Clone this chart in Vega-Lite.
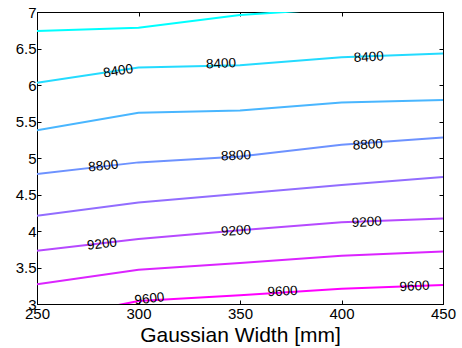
{
  "$schema": "https://vega.github.io/schema/vega-lite/v6.json",
  "width": 406,
  "height": 292,
  "autosize": {"type": "none"},
  "padding": {"left": 37, "top": 12, "right": 19, "bottom": 44},
  "background": "white",
  "config": {
    "view": {"stroke": "black", "strokeWidth": 1},
    "font": "Liberation Sans",
    "axis": {
      "grid": false,
      "domainColor": "black",
      "tickColor": "black",
      "labelColor": "black",
      "labelFont": "Liberation Sans",
      "labelFontSize": 15,
      "titleFont": "Liberation Sans",
      "titleColor": "black",
      "titleFontWeight": "normal",
      "tickSize": -4
    }
  },
  "datasets": {
    "lines": [
      {"x": 250, "y": 6.74, "level": 8200}, {"x": 300, "y": 6.785, "level": 8200}, {"x": 350, "y": 6.96, "level": 8200}, {"x": 400, "y": 7.05, "level": 8200}, {"x": 450, "y": 7.1, "level": 8200},
      {"x": 250, "y": 6.03, "level": 8400}, {"x": 300, "y": 6.24, "level": 8400}, {"x": 350, "y": 6.27, "level": 8400}, {"x": 400, "y": 6.38, "level": 8400}, {"x": 450, "y": 6.43, "level": 8400},
      {"x": 250, "y": 5.38, "level": 8600}, {"x": 300, "y": 5.62, "level": 8600}, {"x": 350, "y": 5.65, "level": 8600}, {"x": 400, "y": 5.76, "level": 8600}, {"x": 450, "y": 5.795, "level": 8600},
      {"x": 250, "y": 4.78, "level": 8800}, {"x": 300, "y": 4.94, "level": 8800}, {"x": 350, "y": 5.02, "level": 8800}, {"x": 400, "y": 5.18, "level": 8800}, {"x": 450, "y": 5.28, "level": 8800},
      {"x": 250, "y": 4.21, "level": 9000}, {"x": 300, "y": 4.39, "level": 9000}, {"x": 350, "y": 4.51, "level": 9000}, {"x": 400, "y": 4.63, "level": 9000}, {"x": 450, "y": 4.74, "level": 9000},
      {"x": 250, "y": 3.73, "level": 9200}, {"x": 300, "y": 3.89, "level": 9200}, {"x": 350, "y": 4.01, "level": 9200}, {"x": 400, "y": 4.12, "level": 9200}, {"x": 450, "y": 4.17, "level": 9200},
      {"x": 250, "y": 3.27, "level": 9400}, {"x": 300, "y": 3.47, "level": 9400}, {"x": 350, "y": 3.56, "level": 9400}, {"x": 400, "y": 3.66, "level": 9400}, {"x": 450, "y": 3.72, "level": 9400},
      {"x": 250, "y": 2.77, "level": 9600}, {"x": 300, "y": 3.04, "level": 9600}, {"x": 350, "y": 3.12, "level": 9600}, {"x": 400, "y": 3.21, "level": 9600}, {"x": 450, "y": 3.26, "level": 9600}
    ],
    "labels": [
      {"x": 290, "y": 6.19, "level": 8400, "col": 1},
      {"x": 340.6, "y": 6.29, "level": 8400, "col": 2},
      {"x": 413.4, "y": 6.38, "level": 8400, "col": 3},
      {"x": 282.7, "y": 4.89, "level": 8800, "col": 1},
      {"x": 348, "y": 5.03, "level": 8800, "col": 2},
      {"x": 413, "y": 5.18, "level": 8800, "col": 3},
      {"x": 282, "y": 3.82, "level": 9200, "col": 1},
      {"x": 348, "y": 4.0, "level": 9200, "col": 2},
      {"x": 412.4, "y": 4.12, "level": 9200, "col": 3},
      {"x": 305.4, "y": 3.07, "level": 9600, "col": 1},
      {"x": 371, "y": 3.17, "level": 9600, "col": 2},
      {"x": 436, "y": 3.24, "level": 9600, "col": 3}
    ]
  },
  "layer": [
    {
      "data": {"name": "lines"},
      "mark": {"type": "line", "strokeWidth": 2, "clip": true},
      "encoding": {
        "x": {"field": "x", "type": "quantitative", "scale": {"domain": [250, 450], "nice": false, "zero": false},
              "axis": {"orient": "bottom", "values": [250, 300, 350, 400, 450], "title": "Gaussian Width [mm]", "titleFontSize": 21, "titlePadding": 3, "labelPadding": 6, "labelFlush": false}},
        "y": {"field": "y", "type": "quantitative", "scale": {"domain": [3, 7], "nice": false, "zero": false},
              "axis": {"orient": "left", "values": [3, 3.5, 4, 4.5, 5, 5.5, 6, 6.5, 7], "format": "~g", "title": null, "labelPadding": 5, "labelFlush": false}},
        "color": {"field": "level", "type": "nominal", "legend": null,
                  "scale": {"domain": [8200, 8400, 8600, 8800, 9000, 9200, 9400, 9600],
                            "range": ["#00ffff", "#24dbff", "#49b6ff", "#6d92ff", "#926dff", "#b649ff", "#db24ff", "#ff00ff"]}},
        "detail": {"field": "level"}
      }
    },
    {
      "data": {"name": "labels"},
      "transform": [{"filter": "datum.col == 1 && datum.level == 8400"}],
      "mark": {"type": "text", "fontSize": 13.5, "font": "Liberation Sans", "color": "black", "angle": -9},
      "encoding": {
        "x": {"field": "x", "type": "quantitative", "axis": {"orient": "top", "values": [250, 300, 350, 400, 450], "labels": false, "title": null}},
        "y": {"field": "y", "type": "quantitative", "axis": {"orient": "right", "values": [3, 3.5, 4, 4.5, 5, 5.5, 6, 6.5, 7], "labels": false, "title": null}},
        "text": {"field": "level", "type": "nominal"}
      }
    },
    {
      "data": {"name": "labels"},
      "transform": [{"filter": "datum.col == 1 && datum.level != 8400"}],
      "mark": {"type": "text", "fontSize": 13.5, "font": "Liberation Sans", "color": "black", "angle": -6},
      "encoding": {
        "x": {"field": "x", "type": "quantitative", "axis": null},
        "y": {"field": "y", "type": "quantitative", "axis": null},
        "text": {"field": "level", "type": "nominal"}
      }
    },
    {
      "data": {"name": "labels"},
      "transform": [{"filter": "datum.col != 1"}],
      "mark": {"type": "text", "fontSize": 13.5, "font": "Liberation Sans", "color": "black", "angle": -3},
      "encoding": {
        "x": {"field": "x", "type": "quantitative", "axis": null},
        "y": {"field": "y", "type": "quantitative", "axis": null},
        "text": {"field": "level", "type": "nominal"}
      }
    }
  ]
}
